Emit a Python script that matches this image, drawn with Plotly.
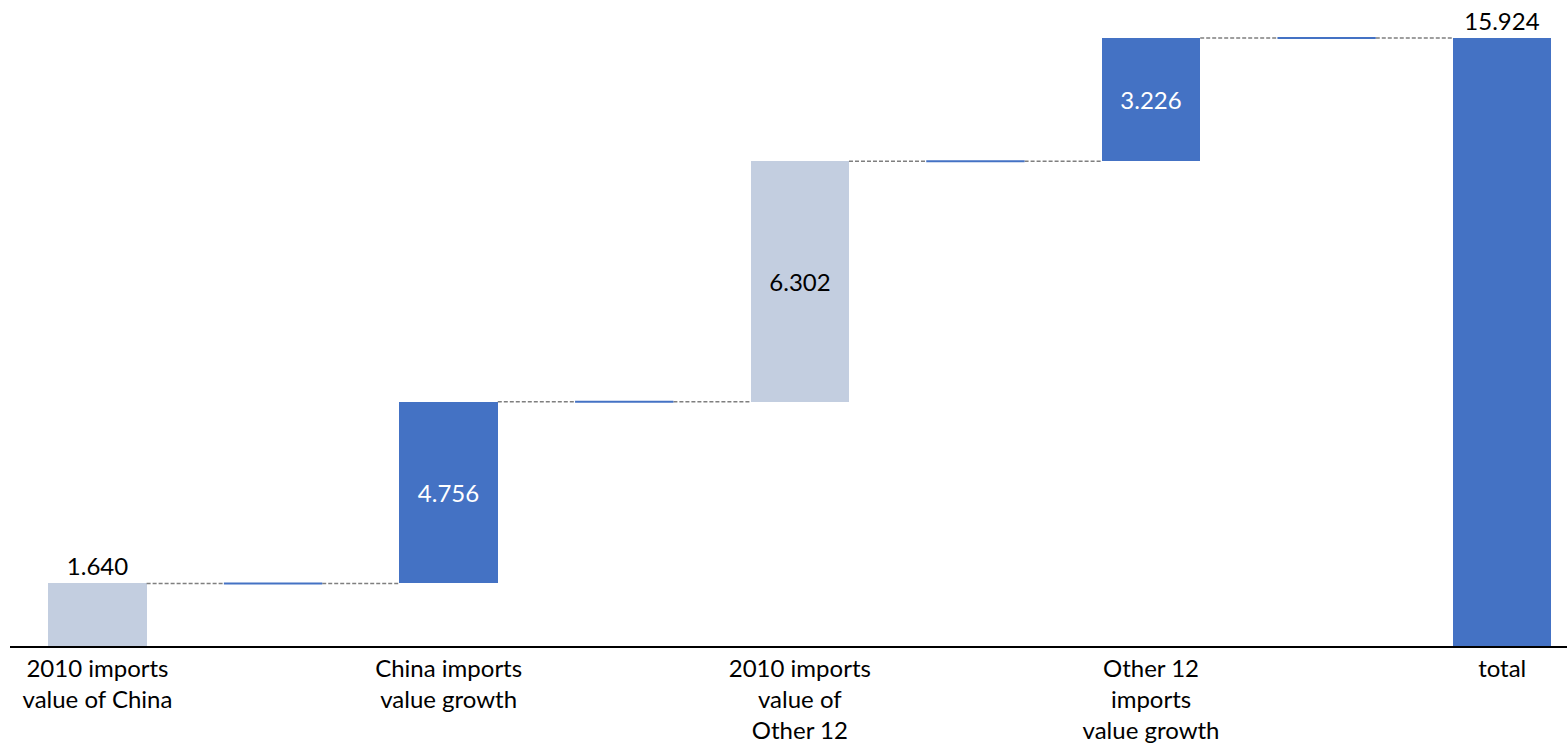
import plotly.graph_objects as go

# Waterfall steps: category labels, step amounts and the kind of each step
categories = [
    "2010 imports<br>value of China", "",
    "China imports<br>value growth", "",
    "2010 imports<br>value of<br>Other 12", "",
    "Other 12<br>imports<br>value growth", "",
    "total",
]
steps = [1.640, 0.0, 4.756, 0.0, 6.302, 0.0, 3.226, 0.0, 15.924]
kinds = ["base", "gap", "growth", "gap", "base", "gap", "growth", "gap", "total"]
value_labels = ["1.640", "", "4.756", "", "6.302", "", "3.226", "", "15.924"]

BLUE = "#4472C4"
LIGHT = "#C3CEE0"
HALF = 0.28  # half bar width in category units
FONT = "Lato, sans-serif"

xs = list(range(len(steps)))
bases, heights, tops = [], [], []
running = 0.0
for s, k in zip(steps, kinds):
    if k == "total":
        bases.append(0.0)
        heights.append(s)
        running = s
    else:
        bases.append(running)
        heights.append(s)
        running += s
    tops.append(running)

bar_idx = [i for i, k in enumerate(kinds) if k != "gap"]
gap_idx = [i for i, k in enumerate(kinds) if k == "gap"]

color_for = {"base": LIGHT, "growth": BLUE, "total": BLUE}
text_color_for = {"base": "black", "growth": "white", "total": "black"}

fig = go.Figure()

# dashed connectors from each bar's top to the next one
cx, cy = [], []
for i in range(len(xs) - 1):
    cx += [xs[i] + HALF, xs[i + 1] - HALF, None]
    cy += [tops[i], tops[i], None]
fig.add_trace(go.Scatter(
    x=cx, y=cy, mode="lines",
    line=dict(color="#7F7F7F", width=1.5, dash="4px,2px"),
    hoverinfo="skip", showlegend=False,
))

# main bars
positions = []
for i in bar_idx:
    if kinds[i] == "growth" or (kinds[i] == "base" and i > 0):
        positions.append("inside")
    else:
        positions.append("outside")

fig.add_trace(go.Bar(
    x=[xs[i] for i in bar_idx],
    y=[heights[i] for i in bar_idx],
    base=[bases[i] for i in bar_idx],
    width=2 * HALF,
    marker=dict(color=[color_for[kinds[i]] for i in bar_idx], line=dict(width=0)),
    text=[value_labels[i] for i in bar_idx],
    textposition=positions,
    insidetextanchor="middle",
    textangle=0,
    insidetextfont=dict(color=[text_color_for[kinds[i]] for i in bar_idx], size=24,
                        family=FONT),
    outsidetextfont=dict(color="black", size=24, family=FONT),
    cliponaxis=False,
    hoverinfo="skip",
    showlegend=False,
))

# zero-height gap steps drawn as thin level markers
gx, gy = [], []
for i in gap_idx:
    gx += [xs[i] - HALF, xs[i] + HALF, None]
    gy += [tops[i], tops[i], None]
fig.add_trace(go.Scatter(
    x=gx, y=gy, mode="lines",
    line=dict(color=BLUE, width=2),
    hoverinfo="skip", showlegend=False,
))

fig.update_layout(
    width=1567, height=744,
    margin=dict(l=10, r=0, t=0, b=96),
    plot_bgcolor="white", paper_bgcolor="white",
    font=dict(family=FONT, size=24, color="black"),
    bargap=0,
    xaxis=dict(
        range=[-0.498, 8.369],
        tickmode="array",
        tickvals=[xs[i] for i in bar_idx],
        ticktext=[categories[i] for i in bar_idx],
        showgrid=False, zeroline=False,
        showline=True, linecolor="black", linewidth=2,
        ticks="", fixedrange=True,
    ),
    yaxis=dict(
        range=[0, 16.92],
        visible=False, showgrid=False, zeroline=False, fixedrange=True,
    ),
)

fig.write_html("out.html")
